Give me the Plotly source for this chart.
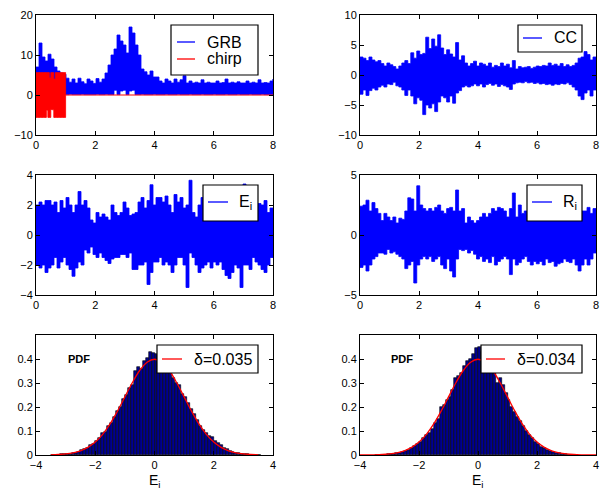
import numpy as np
import plotly.graph_objects as go

# ---------------- DATA ----------------
# envelope peaks (upper / lower) of each signal, 80 samples spanning t = 0 ... 8 s
grb_upper = [7.0, 13.0, 9.5, 8.5, 10.2, 9.0, 7.0, 6.0, 5.5, 5.2,
             4.2, 3.2, 4.0, 3.0, 4.2, 3.3, 2.8, 4.0, 3.5, 2.9,
             4.1, 3.2, 4.0, 5.5, 7.5, 10.0, 11.5, 15.0, 13.5, 12.5,
             10.5, 17.0, 15.5, 12.5, 10.0, 6.5, 5.8, 5.0, 6.0, 4.5,
             4.5, 3.5, 3.0, 4.0, 3.5, 3.0, 4.0, 3.2, 3.8, 4.8,
             3.0, 3.5, 3.0, 3.2, 3.0, 3.8, 3.0, 3.2, 3.0, 3.0,
             3.5, 3.0, 3.1, 4.0, 3.0, 3.2, 3.0, 3.3, 3.0, 3.0,
             3.5, 3.0, 3.2, 3.0, 3.8, 3.0, 3.1, 3.0, 3.5, 4.0]
grb_lower = [0.1, 0.2, 0.1, 0.1, 0.2, 0.1, 0.1, 0.1, 0.2, 0.1,
             0.1, 0.1, 0.2, 0.1, 0.1, 0.1, 0.2, 0.1, 0.1, 0.1,
             0.1, 0.2, 0.1, 0.1, 0.2, 0.1, 0.1, 1.2, 0.1, 1.0,
             1.2, 0.1, 1.0, 1.2, 0.1, 0.1, 0.2, 0.1, 0.1, 0.1,
             0.2, 0.1, 0.1, 0.1, 0.2, 0.1, 0.1, 0.1, 0.2, 0.1,
             0.1, 0.1, 0.2, 0.1, 0.1, 0.1, 0.2, 0.1, 0.1, 0.1,
             0.2, 0.1, 0.1, 0.1, 0.2, 0.1, 0.1, 0.1, 0.2, 0.1,
             0.1, 0.1, 0.2, 0.1, 0.1, 0.1, 0.2, 0.1, 0.1, 0.1]
# chirp burst envelope, 21 samples spanning t = 0 ... 1 s (zero afterwards)
chirp_upper = [5.6, 5.6, 5.6, 5.6, 5.6, 5.6, 5.6, 5.6, 5.6, 4.3, 5.6,
               5.6, 4.0, 5.6, 5.6, 5.6, 5.6, 5.6, 5.6, 5.6, 5.6]
chirp_lower = [-5.6, -5.6, -5.6, -5.6, -5.6, -5.6, -5.6, -5.6, -3.8, -5.6, -5.6,
               -3.6, -3.7, -5.6, -5.6, -5.6, -5.6, -5.6, -5.6, -5.6, -5.6]

cc_upper = [3.0, 2.8, 2.4, 3.0, 2.5, 2.2, 2.4, 1.9, 1.5, 2.0,
            1.7, 1.4, 1.0, 1.5, 2.0, 2.4, 1.9, 3.7, 2.8, 4.0,
            3.4, 3.6, 6.3, 4.4, 6.0, 4.8, 6.7, 4.5, 3.4, 4.2,
            3.5, 3.0, 5.4, 2.5, 3.2, 2.0, 1.5, 1.9, 2.3, 1.5,
            2.0, 1.8, 1.5, 2.0, 1.3, 1.6, 1.4, 2.0, 1.5, 1.8,
            1.2, 2.4, 1.0, 1.4, 1.2, 1.3, 1.4, 1.1, 1.3, 1.5,
            1.4, 1.6, 1.5, 2.0, 1.6, 1.8, 1.5, 1.9, 1.4, 1.7,
            1.4, 1.6, 2.0, 2.8, 3.0, 3.9, 3.4, 2.5, 3.0, 2.5]
cc_lower = [-2.8, -3.2, -2.5, -3.4, -2.6, -2.2, -2.5, -2.0, -1.7, -2.0,
            -1.5, -1.6, -1.2, -1.8, -2.0, -2.5, -3.4, -2.5, -3.5, -4.8,
            -3.8, -4.2, -6.6, -5.0, -5.5, -4.8, -6.1, -4.5, -3.5, -3.8,
            -4.5, -3.5, -4.7, -3.0, -2.6, -2.0, -1.8, -2.0, -1.8, -1.5,
            -1.8, -1.5, -2.0, -1.6, -1.4, -1.7, -1.5, -1.9, -1.6, -1.8,
            -2.0, -2.4, -1.5, -1.3, -1.2, -1.3, -1.1, -1.3, -1.2, -1.4,
            -1.3, -1.5, -1.4, -1.6, -1.5, -1.7, -1.5, -1.6, -1.4, -1.5,
            -1.3, -1.6, -2.0, -2.5, -3.5, -4.1, -3.0, -2.5, -3.5, -2.5]

e_upper = [2.0, 2.2, 2.0, 2.3, 2.3, 2.0, 2.2, 1.5, 2.3, 1.8,
           2.5, 2.0, 1.5, 2.0, 2.9, 2.0, 2.3, 1.8, 1.0, 0.8,
           1.5, 1.2, 1.4, 1.2, 1.0, 2.0, 1.5, 1.3, 1.5, 2.2,
           1.8, 1.3, 1.4, 1.5, 2.2, 2.5, 1.8, 2.3, 3.35, 2.0,
           2.5, 2.5, 2.2, 2.6, 2.0, 1.5, 2.7, 2.2, 2.5, 1.8,
           2.0, 3.65, 1.5, 1.2, 2.0, 2.5, 2.3, 1.8, 2.0, 2.2,
           1.8, 2.0, 2.3, 1.9, 2.1, 2.4, 2.0, 1.8, 2.2, 3.4,
           2.0, 1.8, 2.2, 1.9, 2.1, 2.0, 2.3, 1.5, 1.8, 1.0]
e_lower = [-1.5, -2.0, -2.2, -2.0, -2.5, -2.2, -2.0, -1.5, -2.2, -1.8,
           -1.5, -2.0, -2.3, -2.75, -2.2, -1.8, -2.0, -1.0, -1.2, -0.8,
           -1.3, -1.5, -1.2, -1.5, -1.7, -1.9, -1.6, -1.5, -1.5, -1.3,
           -1.3, -1.5, -1.2, -2.3, -2.3, -2.0, -2.0, -1.8, -3.3, -2.5,
           -1.8, -1.8, -1.5, -2.0, -1.8, -2.0, -2.5, -2.0, -1.5, -1.5,
           -2.0, -3.5, -1.2, -1.5, -2.0, -2.5, -2.2, -2.0, -1.8, -2.2,
           -1.8, -2.0, -1.8, -2.3, -2.7, -2.9, -2.5, -2.0, -2.2, -3.5,
           -2.0, -2.0, -2.3, -1.5, -1.8, -2.0, -2.3, -2.5, -2.0, -1.5]

r_upper = [2.4, 2.5, 2.9, 2.0, 2.7, 2.2, 1.8, 1.2, 1.8, 1.5,
           1.2, 1.5, 1.0, 1.4, 1.3, 2.0, 3.1, 3.0, 2.0, 4.1,
           2.5, 2.2, 2.0, 2.2, 2.0, 2.3, 2.5, 2.0, 1.8, 2.2,
           2.3, 2.0, 3.75, 2.0, 2.2, 1.0, 1.5, 1.2, 1.0, 1.2,
           1.5, 1.8, 1.5, 1.8, 2.2, 2.0, 2.3, 2.2, 2.0, 1.5,
           2.2, 3.5, 1.5, 2.5, 1.8, 2.0, 2.0, 2.3, 1.8, 2.0,
           2.5, 2.2, 2.0, 2.4, 2.1, 2.2, 2.5, 2.0, 2.3, 2.1,
           2.4, 2.0, 2.2, 1.9, 2.0, 2.0, 2.3, 1.8, 2.2, 1.5]
r_lower = [-2.5, -2.7, -2.5, -3.0, -2.5, -2.0, -1.8, -1.5, -1.5, -1.6,
           -1.2, -1.5, -1.4, -1.6, -1.8, -2.0, -2.8, -2.5, -2.2, -4.0,
           -2.5, -2.0, -1.8, -2.0, -1.8, -2.2, -2.0, -1.8, -2.5, -2.8,
           -2.0, -3.0, -3.5, -2.0, -1.2, -1.3, -1.2, -1.5, -1.3, -1.6,
           -2.0, -1.8, -2.2, -2.0, -2.3, -1.8, -2.5, -2.2, -2.0, -1.8,
           -2.0, -3.3, -2.0, -2.5, -2.3, -2.0, -1.8, -2.2, -2.5, -2.2,
           -2.4, -2.2, -2.5, -2.0, -2.3, -2.2, -2.6, -2.4, -2.3, -2.0,
           -2.2, -2.3, -2.0, -2.5, -3.0, -2.5, -2.0, -2.5, -2.0, -1.5]

# histograms: heights of consecutive bins (bin width 0.1), first bin centre
hist1_start = -3.45
hist1_pdf = [0.002, 0.001, 0.002, 0.003, 0.004, 0.004, 0.006, 0.008, 0.010, 0.013,
             0.022, 0.026, 0.030, 0.040, 0.046, 0.058, 0.072, 0.090, 0.095, 0.120,
             0.135, 0.160, 0.185, 0.200, 0.235, 0.250, 0.280, 0.290, 0.350, 0.365,
             0.360, 0.390, 0.405, 0.430, 0.425, 0.420, 0.415, 0.400, 0.380, 0.370,
             0.345, 0.320, 0.300, 0.290, 0.255, 0.240, 0.215, 0.190, 0.170, 0.145,
             0.120, 0.105, 0.090, 0.080, 0.075, 0.060, 0.050, 0.040, 0.030, 0.024,
             0.018, 0.014, 0.010, 0.008, 0.006, 0.005, 0.003, 0.002, 0.002, 0.001, 0.001]
hist2_start = -3.45
hist2_pdf = [0.001, 0.001, 0.002, 0.002, 0.003, 0.004, 0.006, 0.008, 0.009, 0.012,
             0.016, 0.022, 0.028, 0.036, 0.045, 0.055, 0.070, 0.085, 0.090, 0.110,
             0.135, 0.150, 0.200, 0.210, 0.230, 0.240, 0.270, 0.320, 0.330, 0.340,
             0.370, 0.390, 0.400, 0.420, 0.445, 0.450, 0.430, 0.410, 0.390, 0.380,
             0.370, 0.300, 0.320, 0.290, 0.260, 0.230, 0.200, 0.180, 0.160, 0.140,
             0.120, 0.100, 0.085, 0.070, 0.055, 0.045, 0.035, 0.028, 0.022, 0.018,
             0.014, 0.010, 0.008, 0.006, 0.004, 0.002, 0.001]
bin_width = 0.1
# fitted curve (red), read at x = -4 ... 4 step 0.25
fit_x = [-4.0, -3.75, -3.5, -3.25, -3.0, -2.75, -2.5, -2.25, -2.0, -1.75, -1.5,
         -1.25, -1.0, -0.75, -0.5, -0.25, 0.0, 0.25, 0.5, 0.75, 1.0, 1.25, 1.5,
         1.75, 2.0, 2.25, 2.5, 2.75, 3.0, 3.25, 3.5, 3.75, 4.0]
fit_y = [0.0001, 0.0004, 0.0009, 0.0020, 0.0044, 0.0091, 0.0175, 0.0317, 0.0540,
         0.0863, 0.1295, 0.1826, 0.2420, 0.3011, 0.3521, 0.3867, 0.3989, 0.3867,
         0.3521, 0.3011, 0.2420, 0.1826, 0.1295, 0.0863, 0.0540, 0.0317, 0.0175,
         0.0091, 0.0044, 0.0020, 0.0009, 0.0004, 0.0001]

legend_labels = ["GRB", "chirp", "CC", "E<sub>i</sub>", "R<sub>i</sub>",
                 "δ=0.035", "δ=0.034"]

# ---------------- FIGURE ----------------
W, H = 602, 493
BLUE, RED, NAVY = "#0000FF", "#FF0000", "#00008F"
FONT = "Liberation Sans, Arial, Helvetica, sans-serif"


def px(x):
    return x / W


def py(y):
    return 1 - y / H


def band(upper, lower, t0, t1):
    t = np.linspace(t0, t1, len(upper))
    x = np.concatenate([t, t[::-1]])
    y = np.concatenate([np.array(upper, float), np.array(lower, float)[::-1]])
    return x, y


fig = go.Figure()


def add_band(upper, lower, t0, t1, color, ax, shape="hv"):
    x, y = band(upper, lower, t0, t1)
    fig.add_trace(go.Scatter(x=x, y=y, mode="lines", fill="toself", fillcolor=color,
                             line=dict(color=color, width=0.8, shape=shape),
                             xaxis="x" + ax, yaxis="y" + ax, showlegend=False,
                             hoverinfo="skip"))


# panel 1: GRB and chirp
add_band(grb_upper, grb_lower, 0, 8, BLUE, "")
fig.add_trace(go.Scatter(x=[1, 8], y=[0, 0], mode="lines", line=dict(color=RED, width=1.2),
                         xaxis="x", yaxis="y", showlegend=False))
add_band(chirp_upper, chirp_lower, 0, 1, RED, "")
# panels 2-4
add_band(cc_upper, cc_lower, 0, 8, BLUE, "2")
add_band(e_upper, e_lower, 0, 8, BLUE, "3")
add_band(r_upper, r_lower, 0, 8, BLUE, "4")
# panel 5 / 6 histograms
for start, vals, ax in [(hist1_start, hist1_pdf, "5"), (hist2_start, hist2_pdf, "6")]:
    centers = start + np.arange(len(vals)) * bin_width
    fig.add_trace(go.Bar(x=centers, y=vals, width=bin_width,
                         marker=dict(color=NAVY, line=dict(color="black", width=0.6)),
                         xaxis="x" + ax, yaxis="y" + ax, showlegend=False))
    fx, fy = np.array(fit_x), np.array(fit_y)
    if ax == "5":
        m = (fx >= -3.5) & (fx <= 3.5)
        fx, fy = fx[m], fy[m]
    fig.add_trace(go.Scatter(x=fx, y=fy, mode="lines",
                             line=dict(color=RED, width=1.3, shape="spline"),
                             xaxis="x" + ax, yaxis="y" + ax, showlegend=False))

colL = [px(36), px(273)]
colR = [px(360), px(596)]
rows = [[py(135), py(15)], [py(295), py(175)], [py(455), py(335)]]


def axis(domain, anchor, rng, dtick=None, tickvals=None):
    d = dict(domain=domain, anchor=anchor, range=rng, showline=True, linecolor="black",
             linewidth=1, mirror="ticks", ticks="inside", ticklen=4, tickcolor="black",
             showgrid=False, zeroline=False, automargin=False,
             tickfont=dict(family=FONT, size=11, color="black"), fixedrange=True)
    if dtick is not None:
        d["dtick"] = dtick
        d["tick0"] = 0
    if tickvals is not None:
        d["tickvals"] = tickvals
        d["ticktext"] = ["0" if v == 0 else f"{v:g}" for v in tickvals]
    return d


fig.update_layout(
    width=W, height=H, margin=dict(l=0, r=0, t=0, b=0, autoexpand=False),
    paper_bgcolor="white", plot_bgcolor="white", bargap=0, showlegend=False,
    xaxis=axis(colL, "y", [0, 8], 2), yaxis=axis(rows[0], "x", [-10, 20], 10),
    xaxis2=axis(colR, "y2", [0, 8], 2), yaxis2=axis(rows[0], "x2", [-10, 10], 5),
    xaxis3=axis(colL, "y3", [0, 8], 2), yaxis3=axis(rows[1], "x3", [-4, 4], 2),
    xaxis4=axis(colR, "y4", [0, 8], 2), yaxis4=axis(rows[1], "x4", [-5, 5], 5),
    xaxis5=axis(colL, "y5", [-4, 4], 2),
    yaxis5=axis(rows[2], "x5", [0, 0.5], tickvals=[0, 0.1, 0.2, 0.3, 0.4]),
    xaxis6=axis(colR, "y6", [-4, 4], 2),
    yaxis6=axis(rows[2], "x6", [0, 0.5], tickvals=[0, 0.1, 0.2, 0.3, 0.4]),
)

shapes, annots = [], []


def legend_box(x0, y0, x1, y1, items):
    shapes.append(dict(type="rect", xref="paper", yref="paper", x0=px(x0), x1=px(x1),
                       y0=py(y1), y1=py(y0), line=dict(color="black", width=1.2),
                       fillcolor="white", layer="above"))
    for (lx0, lx1, ly, tx, label, color) in items:
        shapes.append(dict(type="line", xref="paper", yref="paper", x0=px(lx0), x1=px(lx1),
                           y0=py(ly), y1=py(ly), line=dict(color=color, width=1.3),
                           layer="above"))
        annots.append(dict(xref="paper", yref="paper", x=px(tx), y=py(ly), text=label,
                           showarrow=False, xanchor="left", yanchor="middle",
                           font=dict(family=FONT, size=16, color="black")))


legend_box(171, 25, 258, 75, [(177, 195, 42, 205, legend_labels[0], BLUE),
                              (177, 195, 59, 205, legend_labels[1], RED)])
legend_box(518, 25, 582, 52, [(523, 542, 38, 552, legend_labels[2], BLUE)])
legend_box(203, 185, 258, 221, [(208, 228, 202, 237, legend_labels[3], BLUE)])
legend_box(527, 185, 582, 221, [(532, 552, 202, 561, legend_labels[4], BLUE)])
legend_box(157, 345, 258, 373, [(162, 182, 359, 192, legend_labels[5], RED)])
legend_box(481, 345, 582, 373, [(486, 505, 359, 515, legend_labels[6], RED)])

for x in (66, 389):
    annots.append(dict(xref="paper", yref="paper", x=px(x), y=py(359), text="<b>PDF</b>",
                       showarrow=False, xanchor="left", yanchor="middle",
                       font=dict(family=FONT, size=11, color="black")))
for x in (154.5, 478):
    annots.append(dict(xref="paper", yref="paper", x=px(x), y=py(481), text="E<sub>i</sub>",
                       showarrow=False, xanchor="center", yanchor="middle",
                       font=dict(family=FONT, size=14, color="black")))

fig.update_layout(shapes=shapes, annotations=annots)
fig.write_html("out.html", config={"displayModeBar": False},
               post_script="document.body.style.margin='0';document.body.style.padding='0';")
